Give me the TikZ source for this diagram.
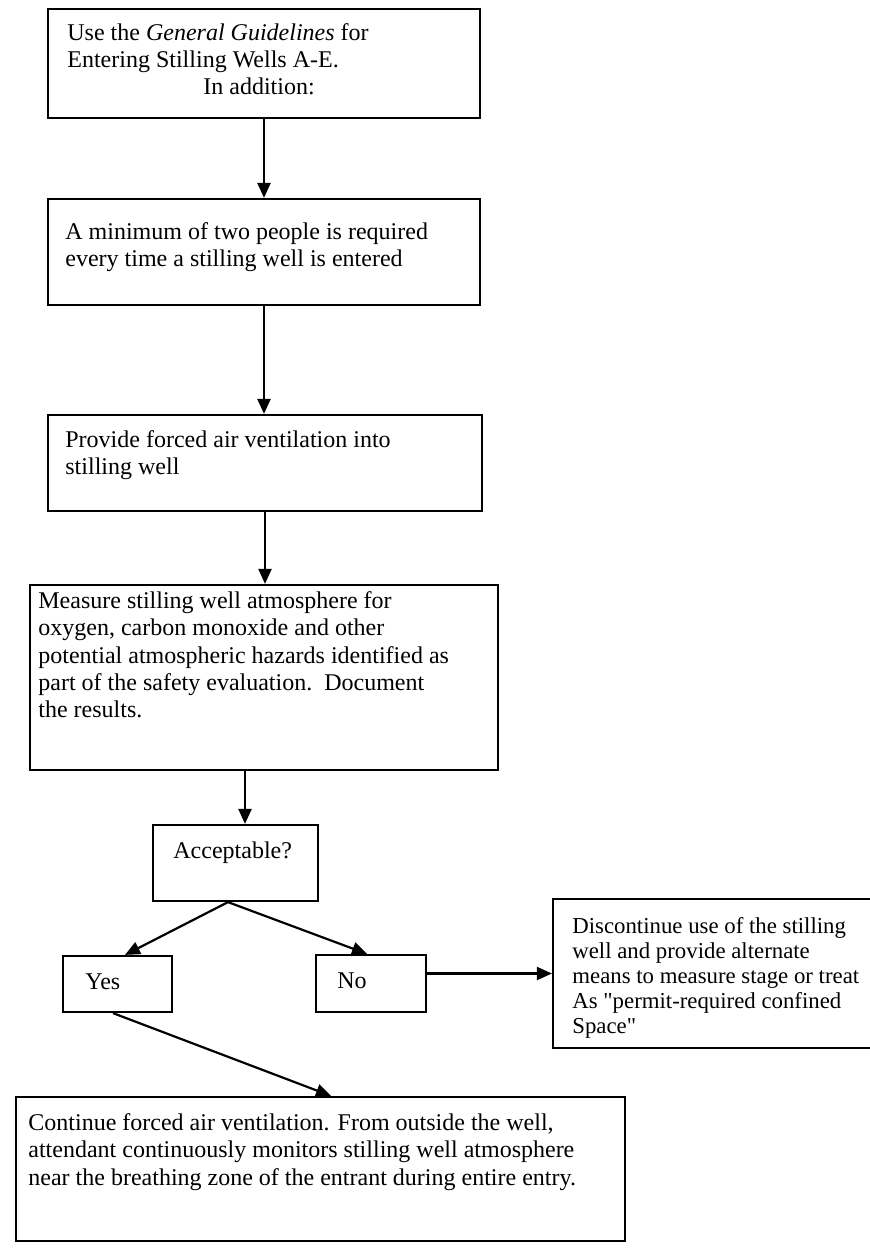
\documentclass[tikz,border=0pt]{standalone}
\usepackage{fontspec}
\setmainfont{Liberation Serif}
\usetikzlibrary{arrows.meta,calc}

\tikzset{
  box/.style={draw, line width=1.1pt, rectangle, inner sep=0pt},
  txt/.style={anchor=north west, inner sep=0pt, align=left},
  arr/.style={line width=1.1pt, -{Triangle[length=7.5pt,width=6.5pt]}}
}

\begin{document}
\begin{tikzpicture}[x=0.5pt, y=-0.5pt]
  \useasboundingbox (0,0) rectangle (870,1248);

  % process boxes (centre, width, height in drawing units)
  \node[box, minimum width=216pt, minimum height=54.5pt] (b1)   at (264,63.5)   {};
  \node[box, minimum width=216pt, minimum height=53pt]   (b2)   at (264,252)    {};
  \node[box, minimum width=217pt, minimum height=48pt]   (b3)   at (265,463)    {};
  \node[box, minimum width=234pt, minimum height=92.5pt] (b4)   at (264,677.5)  {};
  \node[box, minimum width=82.5pt, minimum height=38pt]  (acc)  at (235.5,863)  {};
  \node[box, minimum width=54.5pt, minimum height=28pt]  (yes)  at (117.5,984)  {};
  \node[box, minimum width=55pt, minimum height=28.5pt]  (no)   at (371,983.5)  {};
  \node[box, minimum width=161.5pt, minimum height=74.5pt] (disc) at (714.5,973.5) {};
  \node[box, minimum width=304.5pt, minimum height=72pt] (cont) at (320.5,1169)  {};

  % box texts
  \node[txt, font=\fontsize{12}{13.5}\selectfont] (t1) at (67,21.1)
    {\strut Use the \textit{General Guidelines} for\\
     Entering Stilling Wells A-E.\\
     \hspace*{68pt}In addition:};
  \node[txt, font=\fontsize{12}{13.5}\selectfont] (t2) at (65,220.1)
    {\strut A minimum of two people is required\\
     every time a stilling well is entered};
  \node[txt, font=\fontsize{12}{13.5}\selectfont] (t3) at (65,428.1)
    {\strut Provide forced air ventilation into\\
     stilling well};
  \node[txt, font=\fontsize{12}{13.7}\selectfont] (t4) at (38,588.8)
    {\strut Measure stilling well atmosphere for\\
     oxygen, carbon monoxide and other\\
     potential atmospheric hazards identified as\\
     part of the safety evaluation.\ \ Document\\
     the results.};
  \node[txt, font=\fontsize{12}{13.5}\selectfont] (tacc) at (173,839.1)
    {\strut Acceptable?};
  \node[txt, font=\fontsize{12}{13.5}\selectfont] (tyes) at (85,970.1)
    {\strut Yes};
  \node[txt, font=\fontsize{12}{13.5}\selectfont] (tno) at (337,969.1)
    {\strut No};
  \node[txt, font=\fontsize{11.4}{12.5}\selectfont] (tdisc) at (572,915.5)
    {\strut Discontinue use of the stilling\\
     well and provide alternate\\
     means to measure stage or treat\\
     As \textquotedbl permit-required confined\\
     Space\textquotedbl};
  \node[txt, font=\fontsize{12}{13.75}\selectfont] (tcont) at (28,1110.75)
    {\strut Continue forced air ventilation. From outside the well,\\
     attendant continuously monitors stilling well atmosphere\\
     near the breathing zone of the entrant during entire entry.};

  % connectors
  \draw[arr] (b1.south) -- (b2.north);
  \draw[arr] (b2.south) -- (b2.south |- b3.north);
  \draw[arr] (b3.south) -- (b3.south |- b4.north);
  \coordinate (accin) at ($(acc.north)+(9.5,0)$);
  \draw[arr] (accin |- b4.south) -- (accin);
  \coordinate (accout) at ($(acc.south)+(-7.5,0)$);
  \draw[arr] (accout) -- ($(yes.north)+(7.5,0)$);
  \draw[arr] (accout) -- ($(no.north)+(-4,0)$);
  \draw[arr] (no.east |- disc.west) -- (disc.west);
  \draw[arr] ($(yes.south)+(-4.5,0)$) -- ($(cont.north)+(10.5,0)$);
\end{tikzpicture}
\end{document}
